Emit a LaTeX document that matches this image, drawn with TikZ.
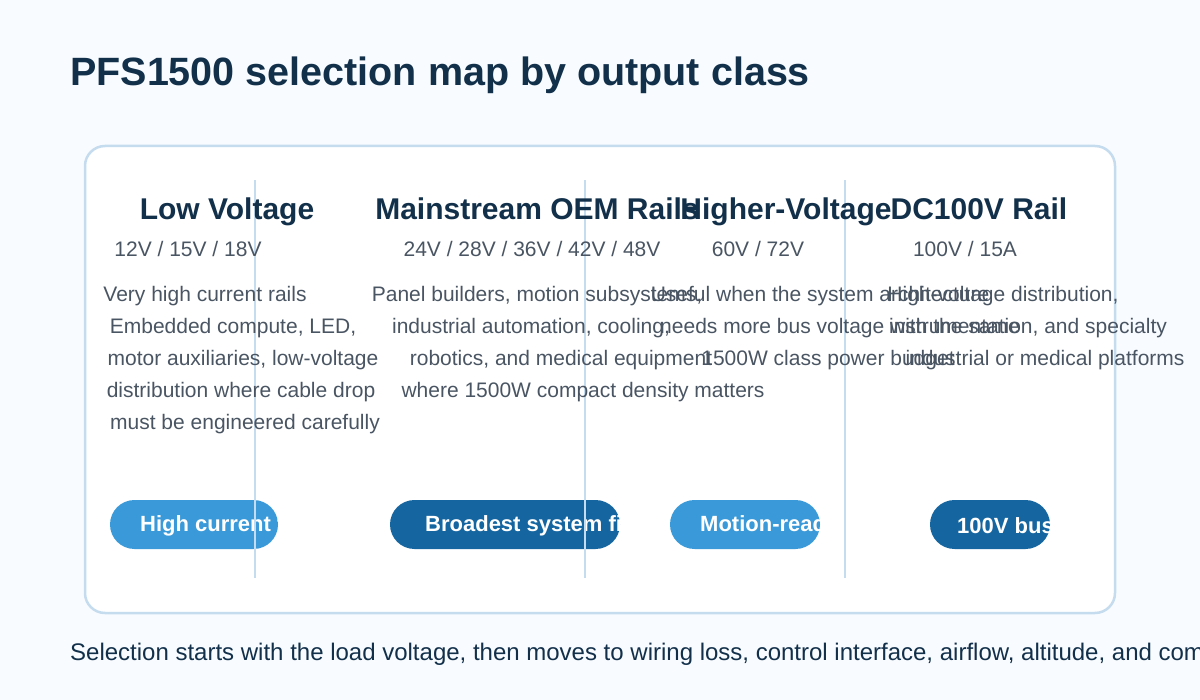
\documentclass[tikz,border=0pt]{standalone}
\usepackage{fontspec}
\setmainfont{Liberation Sans}
\definecolor{bg}{HTML}{F8FBFF}
\definecolor{edge}{HTML}{C5DCEF}
\definecolor{ink}{HTML}{12304A}
\definecolor{grey}{HTML}{4A5563}
\definecolor{lite}{HTML}{3A9AD9}
\definecolor{dark}{HTML}{1565A0}
\begin{document}
\begin{tikzpicture}[x=1pt,y=-1pt,
 head/.style={font=\bfseries\fontsize{30}{34}\selectfont,text=ink,inner sep=0,anchor=base},
 sub/.style={font=\fontsize{21}{25}\selectfont,text=grey,inner sep=0},
 body/.style={font=\fontsize{21}{25}\selectfont,text=grey,inner sep=0},
 pilltxt/.style={font=\bfseries\fontsize{22}{26}\selectfont,text=white,inner sep=0,anchor=west},
 div/.style={edge,line width=2.5pt}]
\useasboundingbox (0,0) rectangle (1200,700);
\clip (0,0) rectangle (1200,700);
\fill[bg] (0,0) rectangle (1200,700);
\node[anchor=base west,inner sep=0,font=\bfseries\fontsize{39.5}{44}\selectfont,text=ink] (title) at (70,86) {PFS1500 selection map by output class};
\draw[edge,fill=white,line width=2.5pt,rounded corners=20] (85,146) rectangle (1115,613);
% pills
\foreach \x/\w/\c/\t/\tx [count=\i] in {110/168/lite/High current fit/140, 390/230/dark/Broadest system fit/425, 670/150/lite/Motion-ready/700, 930/120/dark/100V bus/957}{
 \begin{scope}
  \path[fill=\c,rounded corners=24.5] (\x,500) rectangle ++(\w,49);
  \clip[rounded corners=24.5] (\x,500) rectangle ++(\w,49);
  \node[pilltxt] (p\i) at (\tx,526) {\t};
 \end{scope}}
% dividers
\draw[div] (255,180) -- (255,578);
\draw[div] (585,180) -- (585,578);
\draw[div] (845,180) -- (845,578);
% headings
\node[head] (h1) at (227,220) {Low Voltage};
\node[head] (h2) at (537,220) {Mainstream OEM Rails};
\node[head] (h3) at (786,220) {Higher-Voltage};
\node[head] (h4) at (979,220) {DC100V Rail};
\node[sub] (s1) at (188,249) {12V / 15V / 18V};
\node[sub] (s2) at (532,249) {24V / 28V / 36V / 42V / 48V};
\node[sub] (s3) at (758,249) {60V / 72V};
\node[sub] (s4) at (965,249) {100V / 15A};
% bodies
\node[body] at (205,296) {Very high current rails};
\node[body] at (233,328) {Embedded compute, LED,};
\node[body] at (243,360) {motor auxiliaries, low-voltage};
\node[body] at (241,392) {distribution where cable drop};
\node[body] at (245,424) {must be engineered carefully};
\node[body] at (537,296) {Panel builders, motion subsystems,};
\node[body] at (531,328) {industrial automation, cooling,};
\node[body] at (561,360) {robotics, and medical equipment};
\node[body] at (583,392) {where 1500W compact density matters};
\node[body] at (820,296) {Useful when the system architecture};
\node[body] at (840,328) {needs more bus voltage with the same};
\node[body] at (828,360) {1500W class power budget};
\node[body] at (1003,296) {High-voltage distribution,};
\node[body] at (1028,328) {instrumentation, and specialty};
\node[body] at (1045,360) {industrial or medical platforms};
\node[anchor=base west,inner sep=0,font=\fontsize{24}{28}\selectfont,text=ink] (foot) at (70,660) {Selection starts with the load voltage, then moves to wiring loss, control interface, airflow, altitude, and compliance};
\end{tikzpicture}
\end{document}
